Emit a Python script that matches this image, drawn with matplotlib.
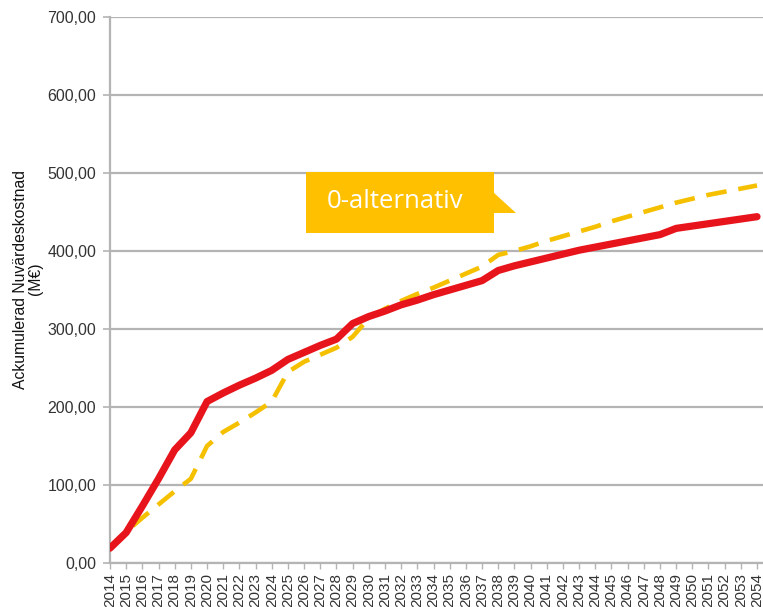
import numpy as np
import matplotlib.pyplot as plt
from matplotlib.patches import Polygon, Rectangle

years = list(range(2014, 2055))

# Solid red series (M€)
red_values = [19, 39, 73, 108, 145, 167, 207, 218, 228, 237,
              247, 261, 270, 279, 287, 307, 316, 323, 331, 337,
              344, 350, 356, 362, 375, 381, 386, 391, 396, 401,
              405, 409, 413, 417, 421, 429, 432, 435, 438, 441, 444]

# Dashed yellow series, 0-alternativ (M€)
yellow_values = [18, 40, 58, 75, 92, 108, 150, 168, 180, 193,
                 207, 245, 258, 267, 276, 290, 314, 326, 336, 345,
                 353, 362, 371, 380, 395, 400, 406, 413, 419, 425,
                 431, 438, 444, 450, 456, 462, 467, 472, 476, 480, 484]

y_ticks = [0, 100, 200, 300, 400, 500, 600, 700]
callout_text = "0-alternativ"

W, H = 763, 607
fig = plt.figure(figsize=(W / 100, H / 100), dpi=100)
ax = fig.add_axes([110 / W, 1 - 563 / H, (W - 110) / W, (563 - 17) / H])

grid_col = "#b4b4b4"
ax.set_ylim(0, 700)
ax.set_xlim(2014, 2054.37)
ax.set_yticks(y_ticks)
ax.set_yticklabels([f"{v:.2f}".replace(".", ",") for v in y_ticks],
                   fontfamily="Liberation Sans", fontsize=11.5, color="#333333")
ax.set_xticks(years)
ax.set_xticklabels([str(y) for y in years], rotation=90,
                   fontfamily="Liberation Sans", fontsize=11, color="#333333")
ax.yaxis.grid(True, color=grid_col, linewidth=1.6)
ax.set_axisbelow(True)
for s in ["top", "right"]:
    ax.spines[s].set_visible(False)
for s in ["left", "bottom"]:
    ax.spines[s].set_color(grid_col)
    ax.spines[s].set_linewidth(1.6)
ax.tick_params(axis="y", length=5, width=1.2, color=grid_col, pad=5)
ax.tick_params(axis="x", length=4, width=1.0, color=grid_col, pad=3)

ax.plot(years, yellow_values, color="#f5c000", linewidth=3.3,
        dashes=(4.5, 2.6), solid_capstyle="butt", zorder=3)
ax.plot(years, red_values, color="#e8141c", linewidth=5.2,
        solid_joinstyle="round", solid_capstyle="round", zorder=4)

ax.set_ylabel("Ackumulerad Nuvärdeskostnad\n(M€)", fontfamily="Liberation Sans",
              fontsize=11.3, color="#111111", linespacing=1.0)
ax.yaxis.set_label_coords(-0.103, 0.52)

# callout box in figure pixel coordinates
def fx(px):
    return px / W


def fy(py):
    return 1 - py / H


box_col = "#ffc000"
fig.patches.append(Rectangle((fx(306), fy(233)), fx(494) - fx(306), fy(172) - fy(233),
                             transform=fig.transFigure, facecolor=box_col,
                             edgecolor="none", zorder=10))
fig.patches.append(Polygon([(fx(493), fy(192)), (fx(516), fy(213)), (fx(493), fy(213))],
                           closed=True, transform=fig.transFigure, facecolor=box_col,
                           edgecolor="none", zorder=10))
fig.text(fx(395), fy(202), callout_text, color="white", fontsize=18.5,
         fontfamily="Open Sans", ha="center", va="center", zorder=11)

fig.savefig("out.png", dpi=100)
